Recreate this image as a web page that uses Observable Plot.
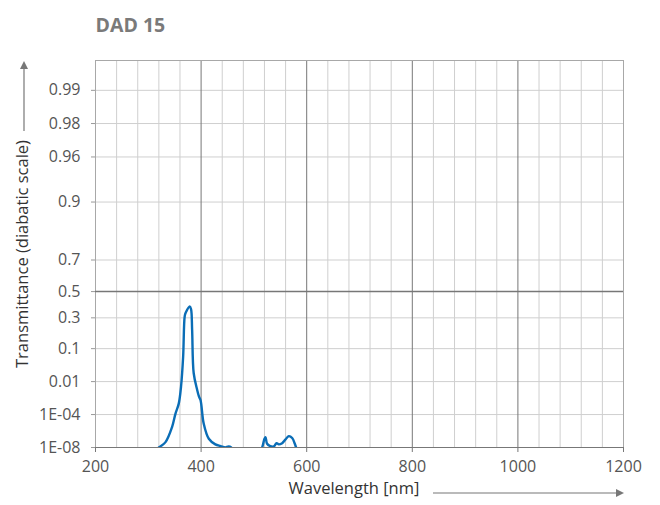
<!DOCTYPE html>
<html>
<head>
<meta charset="utf-8">
<script src="https://cdn.jsdelivr.net/npm/d3@7"></script>
<script src="https://cdn.jsdelivr.net/npm/@observablehq/plot@0.6"></script>
<style>
  html, body { margin: 0; padding: 0; background: #fff; }
  #chart { width: 660px; height: 505px; }
</style>
</head>
<body>
<div id="chart"></div>
<script>
// ---- Data ----
const title = "DAD 15";
const wavelength = [300, 320, 332.6, 345, 351.5, 357.8, 362, 366, 369, 371, 378.6, 381, 383, 386, 392.6, 396, 399, 405, 414.6, 427, 437, 446, 452, 457, 470,
                    505, 515.6, 520, 522, 525, 531, 537.7, 543, 547, 553.5, 560, 566, 572.5, 577.5, 580, 590];
const transmittance = [1e-10, 1e-8, 7.2e-8, 6.3e-6, 1.2e-4, 6.9e-4, 6e-3, 0.066, 0.313, 0.34, 0.387, 0.366, 0.213, 0.021, 4.1e-3, 1.8e-3, 1.1e-3, 1.4e-5, 2.2e-7, 3.2e-8, 1.7e-8, 1e-8, 1.5e-8, 1e-8, 1e-10,
                    1e-10, 1e-8, 2.2e-7, 3.7e-7, 4e-8, 1.7e-8, 1.5e-8, 5e-8, 3.2e-8, 5e-8, 1.8e-7, 5e-7, 2.8e-7, 4e-8, 1e-8, 1e-10];
const xTicks = [200, 400, 600, 800, 1000, 1200];
const xMajorGrid = [400, 600, 800, 1000];
const xMinorGrid = d3.range(240, 1200, 40).filter(v => v % 200 !== 0);
const yTickValues = [1e-8, 1e-4, 0.01, 0.1, 0.3, 0.5, 0.7, 0.9, 0.96, 0.98, 0.99];
const yTickLabels = ["1E-08", "1E-04", "0.01", "0.1", "0.3", "0.5", "0.7", "0.9", "0.96", "0.98", "0.99"];
const yTop = 0.99465; // top edge of the chart frame (transmittance)
const xLabel = "Wavelength [nm]";
const yLabel = "Transmittance (diabatic scale)";

// diabatic scale: -log10(log10(1/T))
const dia = T => -Math.log10(Math.log10(1 / T));

const data = wavelength.map((w, i) => ({w, T: transmittance[i]}));
const yTicksV = yTickValues.map(dia);
const labelMap = new Map(yTicksV.map((v, i) => [v, yTickLabels[i]]));

const W = 660, H = 505;
const mL = 95, mR = 37, mT = 60, mB = 58;

const plot = Plot.plot({
  width: W,
  height: H,
  marginLeft: mL,
  marginRight: mR,
  marginTop: mT,
  marginBottom: mB,
  style: {fontFamily: "'Open Sans', sans-serif", fontSize: "14px", background: "#fff"},
  x: {domain: [200, 1200]},
  y: {domain: [dia(1e-8), dia(yTop)]},
  marks: [
    Plot.ruleX(xMinorGrid, {stroke: "#cfcfcf", strokeWidth: 1}),
    Plot.ruleY(yTicksV.filter((v, i) => yTickLabels[i] !== "0.5" && i > 0), {stroke: "#cfcfcf", strokeWidth: 1}),
    Plot.ruleX(xMajorGrid, {stroke: "#777", strokeWidth: 1}),
    Plot.frame({stroke: "#a8a8a8", strokeWidth: 1}),
    Plot.ruleY([dia(0.5)], {stroke: "#777", strokeWidth: 1.5}),
    Plot.ruleY([dia(1e-8)], {stroke: "#777", strokeWidth: 1}),
    Plot.line(data, {x: "w", y: d => dia(d.T), curve: "catmull-rom", stroke: "#0a6db6", strokeWidth: 2.4, clip: true}),
    Plot.axisX(xTicks, {tickSize: 5, tickPadding: 8, stroke: "#777", fill: "#555", fontSize: 16, tickFormat: d => String(d), label: null}),
    Plot.axisY(yTicksV, {tickSize: 4, tickPadding: 11, stroke: "#999", fill: "#555", fontSize: 16, tickFormat: d => labelMap.get(d), label: null}),
    Plot.text([title], {frameAnchor: "top-left", dy: -42, textAnchor: "start", fontSize: 19.5, fontWeight: "bold", fill: "#7a7a7a"}),
    Plot.text([yLabel], {frameAnchor: "left", dx: -73, rotate: -90, textAnchor: "middle", fontSize: 16.5, fill: "#333"}),
    Plot.text([xLabel], {frameAnchor: "bottom-left", dx: 193, dy: 46, textAnchor: "start", fontSize: 16.5, fill: "#333"})
  ]
});

document.getElementById("chart").appendChild(plot);

// decorative arrows next to axis labels
const svg = d3.select(plot);
const g = svg.append("g").attr("fill", "#777").attr("stroke", "#777");
// y arrow
g.append("line").attr("x1", 24).attr("x2", 24).attr("y1", 131).attr("y2", 68).attr("stroke-width", 1.2);
g.append("path").attr("d", "M24,61 L20,69 L28,69 Z").attr("stroke", "none");
// x arrow
g.append("line").attr("x1", 433).attr("x2", 617).attr("y1", 493).attr("y2", 493).attr("stroke-width", 1.2);
g.append("path").attr("d", "M624,493 L616,489 L616,497 Z").attr("stroke", "none");
</script>
</body>
</html>
